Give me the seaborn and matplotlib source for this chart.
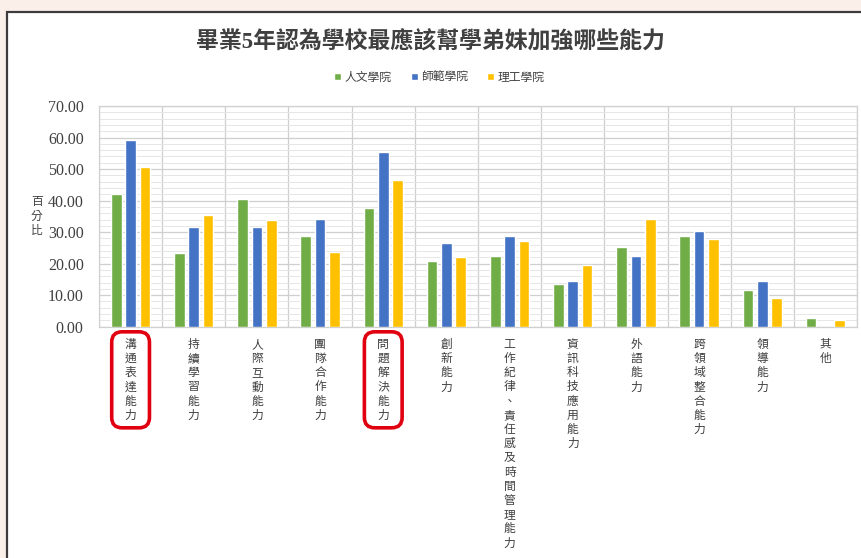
import numpy as np
import pandas as pd
import matplotlib
matplotlib.use("Agg")
import matplotlib.pyplot as plt
import seaborn as sns
from matplotlib.patches import Rectangle, FancyBboxPatch

# ---- data -------------------------------------------------------------
categories = [
    "溝通表達能力", "持續學習能力", "人際互動能力", "團隊合作能力",
    "問題解決能力", "創新能力", "工作紀律、責任感及時間管理能力",
    "資訊科技應用能力", "外語能力", "跨領域整合能力", "領導能力", "其他",
]
colleges = ["人文學院", "師範學院", "理工學院"]
humanities = [42.2, 23.5, 40.5, 28.9, 37.8, 20.8, 22.5, 13.5, 25.3, 28.9, 11.7, 2.7]
education = [59.2, 31.6, 31.6, 34.2, 55.3, 26.5, 28.9, 14.6, 22.4, 30.2, 14.6, 0.0]
science = [50.6, 35.3, 34.0, 23.7, 46.6, 22.2, 27.1, 19.7, 34.1, 27.9, 9.0, 2.1]
y_ticks = [0, 10, 20, 30, 40, 50, 60, 70]
highlighted = ["溝通表達能力", "問題解決能力"]

title = "畢業5年認為學校最應該幫學弟妹加強哪些能力"
y_label = "百分比"

colors = ["#70AD47", "#4472C4", "#FFC000"]

df = pd.DataFrame({
    "能力": categories * 3,
    "學院": sum([[c] * len(categories) for c in colleges], []),
    "百分比": humanities + education + science,
})

# ---- styling ----------------------------------------------------------
sns.set_theme(style="white")
CJK = ["Noto Sans CJK TC", "DejaVu Sans"]
SERIF = ["Liberation Serif", "Noto Sans CJK TC"]
plt.rcParams["font.family"] = CJK
text_gray = "#404040"

fig = plt.figure(figsize=(8.62, 5.58), dpi=100)
fig.patch.set_facecolor("#fbefea")

# white panel with dark frame
panel = Rectangle((7.5 / 862, -0.05), 1.1, (558 - 12) / 558 + 0.05,
                  transform=fig.transFigure, facecolor="white",
                  edgecolor="#3c3c3c", linewidth=1.6, zorder=-10)
fig.patches.append(panel)

ax = fig.add_axes([99 / 862, 1 - 326.7 / 558, 758 / 862, 220.7 / 558])
ax.set_facecolor("none")

sns.barplot(data=df, x="能力", y="百分比", hue="學院", palette=colors,
            width=0.68, gap=0.25, saturation=1, ax=ax, zorder=3)

ax.set_xlim(-0.5, len(categories) - 0.5)
ax.set_ylim(0, 70)
ax.set_yticks(y_ticks)
ax.set_yticklabels([f"{v:.2f}" for v in y_ticks])
ax.set_yticks(np.arange(0, 71, 2), minor=True)
ax.set_xticks(np.arange(-0.5, len(categories), 1), minor=True)

ax.grid(which="major", axis="y", color="#cfcfcf", linewidth=0.9, zorder=0)
ax.grid(which="minor", axis="y", color="#e6e6e6", linewidth=0.7, zorder=0)
ax.grid(which="minor", axis="x", color="#cfcfcf", linewidth=0.9, zorder=0)
ax.set_axisbelow(True)
for sp in ax.spines.values():
    sp.set_color("#d0d0d0")
    sp.set_linewidth(0.9)

# vertical, one character per line category labels
ax.set_xticks(range(len(categories)))
ax.set_xticklabels(["\n".join(c) for c in categories])
ax.tick_params(axis="x", which="both", length=0, pad=8, labelsize=8.5,
               labelcolor=text_gray)
for lab in ax.get_xticklabels():
    lab.set_verticalalignment("top")
    lab.set_linespacing(1.12)
    lab.set_fontfamily(CJK)
ax.tick_params(axis="y", which="both", length=0, pad=11, labelsize=11.5,
               labelcolor=text_gray)
for lab in ax.get_yticklabels():
    lab.set_fontfamily(SERIF)

ax.set_xlabel("")
ax.set_ylabel("\n".join(y_label), rotation=0, fontsize=8.5, color=text_gray,
              va="center", ha="center", linespacing=1.15)
ax.yaxis.set_label_coords(-0.082, 0.5)

# legend
handles, labels = ax.get_legend_handles_labels()
ax.legend_.remove()
fig.legend(handles, labels, loc="center", bbox_to_anchor=(0.51, 1 - 77 / 558),
           ncol=3, frameon=False, fontsize=8.5, handlelength=0.6,
           handleheight=0.6, handletextpad=0.3, columnspacing=1.6,
           labelcolor=text_gray)

fig.text(0.499, 1 - 42 / 558, title, ha="center", va="center",
         fontsize=16.5, fontweight="bold", color=text_gray, family=SERIF)

# red rounded boxes around highlighted category labels
fig.canvas.draw()
renderer = fig.canvas.get_renderer()
inv = fig.transFigure.inverted()
for lab in ax.get_xticklabels():
    if lab.get_text().replace("\n", "") in highlighted:
        bb = lab.get_window_extent(renderer)
        x0, y0 = bb.x0 - 13, bb.y0 - 6
        x1, y1 = bb.x1 + 13, bb.y1 + 6
        (fx0, fy0), (fx1, fy1) = inv.transform([(x0, y0), (x1, y1)])
        fig.patches.append(FancyBboxPatch(
            (fx0, fy0), fx1 - fx0, fy1 - fy0,
            boxstyle="round,pad=0,rounding_size=0.012",
            transform=fig.transFigure, facecolor="none",
            edgecolor="#e00010", linewidth=2.6, zorder=5,
            mutation_aspect=862 / 558))

fig.savefig("out.png", dpi=100, facecolor=fig.get_facecolor())
